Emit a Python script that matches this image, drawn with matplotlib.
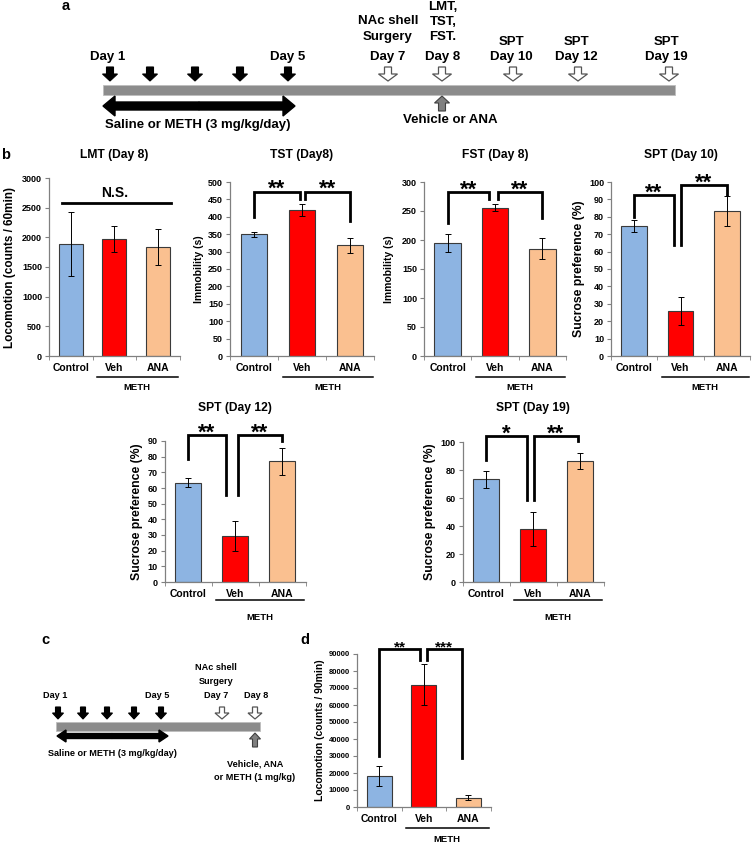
import matplotlib
matplotlib.use('Agg')
import numpy as np
import matplotlib.pyplot as plt
from matplotlib.patches import Rectangle
from matplotlib.transforms import blended_transform_factory, ScaledTranslation

plt.rcParams['font.family'] = ['Liberation Sans', 'DejaVu Sans']
plt.rcParams['font.weight'] = 'bold'

# ---- data ----
groups = ['Control', 'Veh', 'ANA']
colors = ['#8DB4E2', '#FF0000', '#FAC090']

lmt_mean = [1890, 1970, 1835]
lmt_err = [545, 220, 300]
tst_mean = [350, 420, 318]
tst_err = [7, 17, 22]
fst_mean = [195, 256, 185]
fst_err = [15, 6, 18]
spt10_mean = [74.5, 26, 83.5]
spt10_err = [3.5, 8, 8.5]
spt12_mean = [63.5, 29.5, 77]
spt12_err = [3, 9.5, 8.5]
spt19_mean = [73.5, 38, 86.5]
spt19_err = [6, 12, 6]
loco_mean = [18300, 72000, 5500]
loco_err = [5700, 12000, 1300]

# brackets: x1, x2, y1, y2, top, label
tst_sig = [(0, 0.96, 399, 450, 472, '**'), (1.06, 2, 450, 388, 472, '**')]
fst_sig = [(0, 0.87, 229, 270, 283, '**'), (1.06, 2, 270, 238, 283, '**')]
spt10_sig = [(0, 0.86, 79.7, 63.8, 92.5, '**'), (1.01, 2, 63.8, 92.5, 98, '**')]
spt12_sig = [(0, 0.8, 78.7, 55.7, 93.6, '**'), (1.06, 2, 55.7, 89.8, 93.6, '**')]
spt19_sig = [(0, 0.87, 86.9, 58.8, 104, '*'), (1.02, 1.95, 58.8, 100.5, 104, '**')]
loco_sig = [(0, 0.92, 29800, 86300, 92900, '**'), (1.08, 1.85, 86300, 28800, 92900, '***')]

W, H = 752, 844
fig = plt.figure(figsize=(W / 100, H / 100), dpi=100)
fig.patch.set_facecolor('white')

ov = fig.add_axes([0, 0, 1, 1])
ov.set_xlim(0, W)
ov.set_ylim(H, 0)
ov.axis('off')


def px_axes(left, top, right, bottom):
    return fig.add_axes([left / W, 1 - bottom / H, (right - left) / W, (bottom - top) / H])


def bar_panel(box, means, errs, ymax, ystep, title, title_y, ylabel, labelpad,
              sig=None, under=21, meth=32, tick_size=6.5, cat_size=7.5,
              ylab_size=7.5, star_size=16, star_off=-2.5):
    left, top, right, bottom = box
    ax = px_axes(left, top, right, bottom)
    ax.bar(range(3), means, width=0.56, color=colors, edgecolor='#3a3a3a', linewidth=0.8,
           yerr=errs, error_kw=dict(ecolor='black', elinewidth=0.7, capsize=2, capthick=0.7))
    ax.set_xlim(-0.5, 2.5)
    ax.set_ylim(0, ymax)
    ax.set_yticks(np.arange(0, ymax + 1, ystep))
    for s in ['top', 'right']:
        ax.spines[s].set_visible(False)
    for s in ['left', 'bottom']:
        ax.spines[s].set_color('#808080')
        ax.spines[s].set_linewidth(0.9)
    ax.set_xticks(range(3))
    ax.set_xticklabels(groups, fontsize=cat_size, fontweight='bold')
    ax.set_xticks([-0.5, 0.5, 1.5, 2.5], minor=True)
    ax.tick_params(axis='x', which='major', length=0, pad=5)
    ax.tick_params(axis='x', which='minor', length=3, color='#808080')
    ax.tick_params(axis='y', length=3, color='#808080', labelsize=tick_size, pad=2)
    for t in ax.get_yticklabels():
        t.set_fontweight('bold')
    ax.set_ylabel(ylabel, fontsize=ylab_size, fontweight='bold', labelpad=labelpad)
    if title:
        ov.text((left + right) / 2, title_y, title, ha='center', va='center',
                fontsize=8.7, fontweight='bold')
    # METH group line
    tr = blended_transform_factory(ax.transData, ax.transAxes) + \
        ScaledTranslation(0, -under / 100, fig.dpi_scale_trans)
    ax.plot([0.6, 2.47], [0, 0], color='black', lw=1.1, transform=tr, clip_on=False)
    tr2 = blended_transform_factory(ax.transData, ax.transAxes) + \
        ScaledTranslation(0, -meth / 100, fig.dpi_scale_trans)
    ax.text(1.53, 0, 'METH', transform=tr2, ha='center', va='center', fontsize=6.8,
            fontweight='bold')
    if sig:
        for x1, x2, y1, y2, topv, lab in sig:
            ax.plot([x1, x1, x2, x2], [y1, topv, topv, y2], color='black', lw=2,
                    clip_on=False, solid_joinstyle='miter')
            ax.annotate(lab, xy=((x1 + x2) / 2, topv), xytext=(0, star_off),
                        textcoords='offset points', ha='center', va='baseline',
                        fontsize=star_size, fontweight='bold', annotation_clip=False)
    return ax


# ---- panel b ----
ax = bar_panel((49, 178, 179.5, 356), lmt_mean, lmt_err, 3000, 500, 'LMT (Day 8)', 155,
               'Locomotion (counts / 60min)', 4, ylab_size=8.5)
ax.plot([-0.2, 2.3], [2584, 2584], color='black', lw=2, clip_on=False)
ax.text(1.0, 2740, 'N.S.', ha='center', va='center', fontsize=10, fontweight='bold')

bar_panel((230, 182, 374, 356), tst_mean, tst_err, 500, 50, 'TST (Day8)', 155,
          'Immobility (s)', 3, tst_sig)
bar_panel((424, 182, 566, 356), fst_mean, fst_err, 300, 50, 'FST (Day 8)', 155,
          'Immobility (s)', 6, fst_sig)
bar_panel((611, 182, 750, 356), spt10_mean, spt10_err, 100, 10, 'SPT (Day 10)', 155,
          'Sucrose preference (%)', 3, spt10_sig, ylab_size=8.8)
bar_panel((164.5, 441, 305.5, 582), spt12_mean, spt12_err, 90, 10, 'SPT (Day 12)', 408,
          'Sucrose preference (%)', 3, spt12_sig, under=18, meth=35, ylab_size=8.8)
bar_panel((462.5, 442, 603.5, 582), spt19_mean, spt19_err, 100, 20, 'SPT (Day 19)', 408,
          'Sucrose preference (%)', 3, spt19_sig, under=18, meth=35, ylab_size=8.8)

# ---- panel d ----
bar_panel((357, 654, 490.5, 807), loco_mean, loco_err, 90000, 10000, '', 640,
          'Locomotion (counts / 90min)', 3, loco_sig, under=21, meth=32,
          tick_size=5.5, cat_size=7.5, ylab_size=7.5, star_size=11, star_off=-2)

# ---- panel letters ----
ov.text(66, 6, 'a', fontsize=10.5, fontweight='bold', ha='center', va='center')
ov.text(6, 155, 'b', fontsize=10.5, fontweight='bold', ha='center', va='center')
ov.text(45, 640, 'c', fontsize=10.5, fontweight='bold', ha='center', va='center')
ov.text(305, 640, 'd', fontsize=10.5, fontweight='bold', ha='center', va='center')


def down(x, y0, y1, w, hw, hl, fc, ec, lw=0.8):
    ov.arrow(x, y0, 0, y1 - y0, width=w, head_width=hw, head_length=hl,
             length_includes_head=True, fc=fc, ec=ec, lw=lw)


# ---- panel a timeline ----
ov.add_patch(Rectangle((103, 85), 572, 10, facecolor='#8c8c8c', edgecolor='#bdbdbd', lw=0.6))
for x in [110, 150, 195, 240, 288]:
    down(x, 67, 81, 7, 15, 7, 'black', 'black')
for x in [388, 442, 513, 578, 669]:
    down(x, 67, 81, 7, 19, 7, 'white', '#555555', 0.9)
ov.arrow(199, 106, -96, 0, width=8, head_width=20, head_length=12, length_includes_head=True,
         fc='black', ec='black')
ov.arrow(199, 106, 96, 0, width=8, head_width=20, head_length=12, length_includes_head=True,
         fc='black', ec='black')
down(442, 111, 96, 7, 15, 7, '#808080', '#404040')

a_labels = [(108, 57, 'Day 1'), (288, 57, 'Day 5'), (388, 57, 'Day 7'), (443, 57, 'Day 8'),
            (511, 57, 'Day 10'), (576, 57, 'Day 12'), (666, 57, 'Day 19'),
            (388, 21, 'NAc shell'), (388, 37, 'Surgery'),
            (443, 7, 'LMT,'), (443, 22, 'TST,'), (443, 37, 'FST.'),
            (511, 42, 'SPT'), (576, 42, 'SPT'), (666, 42, 'SPT'),
            (198, 125, 'Saline or METH (3 mg/kg/day)'), (450, 120, 'Vehicle or ANA')]
for x, y, s in a_labels:
    ov.text(x, y, s, ha='center', va='center', fontsize=9.5, fontweight='bold')

# ---- panel c timeline ----
ov.add_patch(Rectangle((56, 722), 204, 9, facecolor='#8c8c8c', edgecolor='#bdbdbd', lw=0.6))
for x in [58, 83, 107, 134, 161]:
    down(x, 707, 719, 5, 11, 6, 'black', 'black')
for x in [222, 255]:
    down(x, 707, 719, 5, 14, 6, 'white', '#555555', 0.9)
ov.arrow(112, 736, -55, 0, width=5, head_width=12, head_length=9, length_includes_head=True,
         fc='black', ec='black')
ov.arrow(112, 736, 56, 0, width=5, head_width=12, head_length=9, length_includes_head=True,
         fc='black', ec='black')
down(255, 747, 733, 5, 11, 6, '#808080', '#404040')

c_labels = [(55, 696, 'Day 1'), (157, 696, 'Day 5'), (216, 696, 'Day 7'), (256, 696, 'Day 8'),
            (216, 667, 'NAc shell'), (216, 681, 'Surgery'),
            (112, 753, 'Saline or METH (3 mg/kg/day)'),
            (255, 764, 'Vehicle, ANA'), (255, 777, 'or METH (1 mg/kg)')]
for x, y, s in c_labels:
    ov.text(x, y, s, ha='center', va='center', fontsize=6.6, fontweight='bold')

fig.savefig('out.png', dpi=100, facecolor='white')
